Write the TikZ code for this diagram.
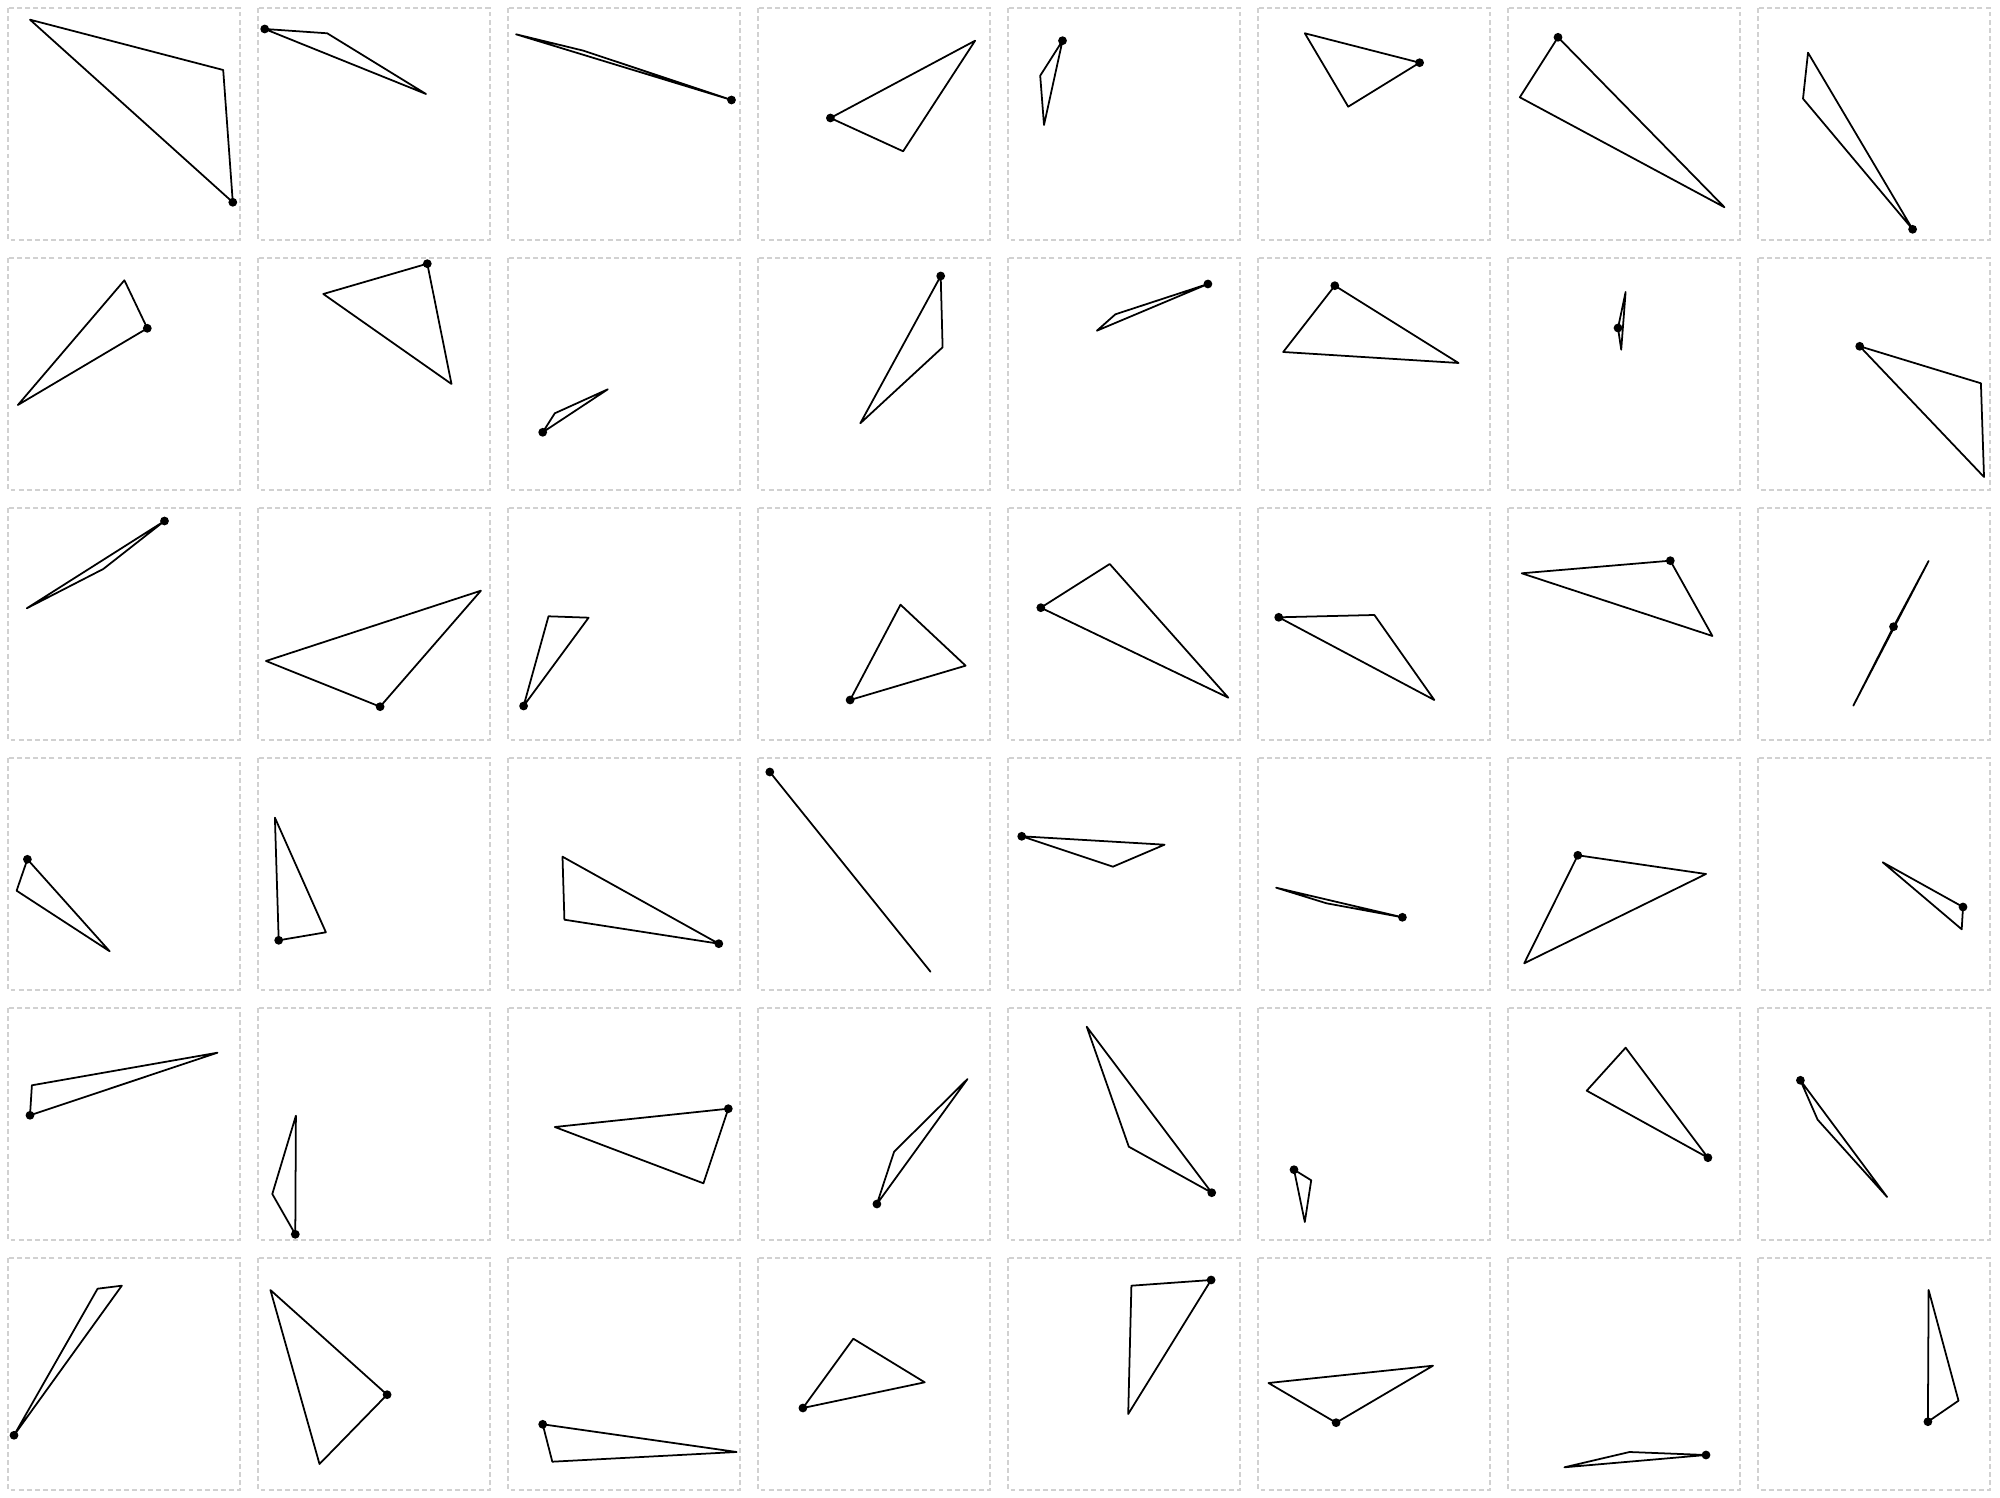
\documentclass[tikz,border=0pt]{standalone}
\usepackage{tikz}

% one panel: column, row, marked vertex, two other vertices
\newcommand{\trianglepanel}[5]{%
  \begin{scope}[shift={(250*#1,250*#2)}]
    \draw[panelbox] (8,8) rectangle (240,240);
    \draw[tri] #3 -- #4 -- #5 -- cycle;
    \fill #3 circle[radius=1.25pt];
  \end{scope}}

\begin{document}
\begin{tikzpicture}[
  x=0.01cm, y=-0.01cm,
  panelbox/.style={draw=black!18, line width=0.55pt, dash pattern=on 1.4pt off 0.9pt},
  tri/.style={draw=black, line width=0.5pt, line join=round}
]
\useasboundingbox (0,0) rectangle (2000,1498);

% row 1
\trianglepanel{0}{0}{(232.8,202.3)}{(30.0,19.7)}{(223.2,70)}
\trianglepanel{1}{0}{(14.7,29)}{(77.2,33.3)}{(176.0,94)}
\trianglepanel{2}{0}{(231.5,100)}{(16,34.3)}{(83.5,50.7)}
\trianglepanel{3}{0}{(80.4,118)}{(225.1,40.7)}{(153.1,151.3)}
\trianglepanel{4}{0}{(62.5,40.7)}{(40.2,75.7)}{(44.0,125)}
\trianglepanel{5}{0}{(169.6,62.7)}{(54.8,33.3)}{(98.2,106.7)}
\trianglepanel{6}{0}{(58,37.3)}{(19.8,97.3)}{(224.5,207.3)}
\trianglepanel{7}{0}{(162.6,229.3)}{(58,52.7)}{(53,98.7)}

% row 2
\trianglepanel{0}{1}{(147.3,78.3)}{(124.4,30.3)}{(17.9,155)}
\trianglepanel{1}{1}{(177.3,13.7)}{(73.3,44)}{(201.5,134)}
\trianglepanel{2}{1}{(42.7,182.3)}{(54.8,163.3)}{(107.8,139.3)}
\trianglepanel{3}{1}{(190.7,26)}{(192.6,97.3)}{(110.3,173.3)}
\trianglepanel{4}{1}{(207.9,34)}{(115.4,64.3)}{(96.9,80.7)}
\trianglepanel{5}{1}{(84.8,35.7)}{(33.2,102)}{(208.5,113)}
\trianglepanel{6}{1}{(118,78)}{(125.6,42)}{(121.2,99.7)}
\trianglepanel{7}{1}{(109.7,96.3)}{(230.9,133.3)}{(234,227)}

% row 3
\trianglepanel{0}{2}{(164.5,21)}{(103.3,69)}{(26.8,108.3)}
\trianglepanel{1}{2}{(130.1,206.7)}{(230.9,90.7)}{(16,161)}
\trianglepanel{2}{2}{(23.6,206)}{(48.5,116.3)}{(88.6,117.7)}
\trianglepanel{3}{2}{(100.1,200)}{(150.5,104.7)}{(215.6,165.7)}
\trianglepanel{4}{2}{(40.8,107.7)}{(109.7,64)}{(228.3,197.7)}
\trianglepanel{5}{2}{(28.7,117.3)}{(124.4,115)}{(184.3,200)}
\trianglepanel{6}{2}{(170.3,60.7)}{(21.7,73.3)}{(212.4,136)}
\trianglepanel{7}{2}{(143.5,126.7)}{(178.6,61)}{(103.3,205.7)}

% row 4
\trianglepanel{0}{3}{(27.4,109.3)}{(16.6,140.7)}{(109.7,201.3)}
\trianglepanel{1}{3}{(28.7,190.3)}{(24.9,67.7)}{(75.9,182.3)}
\trianglepanel{2}{3}{(218.8,193.7)}{(62.5,106.7)}{(64.4,169.7)}
\trianglepanel{3}{3}{(19.8,22)}{(180.5,221.7)}{(100.2,121.9)}
\trianglepanel{4}{3}{(21.7,86.3)}{(164.5,94.7)}{(112.9,116.7)}
\trianglepanel{5}{3}{(152.4,167.3)}{(26.1,137.7)}{(76.5,153.3)}
\trianglepanel{6}{3}{(77.8,105.3)}{(206,124)}{(24.2,213.3)}
\trianglepanel{7}{3}{(213,157)}{(132.7,112.3)}{(211.7,179.3)}

% row 5
\trianglepanel{0}{4}{(30,115.3)}{(31.9,85.3)}{(217.5,52.7)}
\trianglepanel{1}{4}{(45.3,234.3)}{(22.3,194)}{(45.9,115.7)}
\trianglepanel{2}{4}{(228.3,108.7)}{(54.8,127)}{(203.4,183.3)}
\trianglepanel{3}{4}{(126.9,204)}{(144.1,151.7)}{(217.5,79)}
\trianglepanel{4}{4}{(211.7,192.7)}{(128.8,146.7)}{(86.7,26.7)}
\trianglepanel{5}{4}{(44,169.7)}{(61.2,180.3)}{(54.8,222)}
\trianglepanel{6}{4}{(207.9,157.7)}{(86.7,90.7)}{(125.6,47.7)}
\trianglepanel{7}{4}{(50.4,80.3)}{(67.6,119.7)}{(137.1,197)}

% row 6
\trianglepanel{0}{5}{(14,185.3)}{(97.6,38.7)}{(121.8,35.7)}
\trianglepanel{1}{5}{(137.1,144.7)}{(69.5,214)}{(20.4,40)}
\trianglepanel{2}{5}{(42.7,174.3)}{(52.3,211.7)}{(236.6,202)}
\trianglepanel{3}{5}{(52.9,158)}{(103.3,88.7)}{(174.7,132.3)}
\trianglepanel{4}{5}{(211.1,30)}{(131.4,35.7)}{(128.2,164)}
\trianglepanel{5}{5}{(86.1,172.7)}{(18.5,133)}{(183,115.7)}
\trianglepanel{6}{5}{(206,205)}{(129.5,202)}{(64.4,217.3)}
\trianglepanel{7}{5}{(177.9,171.7)}{(178.6,40)}{(208.5,150.7)}

\end{tikzpicture}
\end{document}
